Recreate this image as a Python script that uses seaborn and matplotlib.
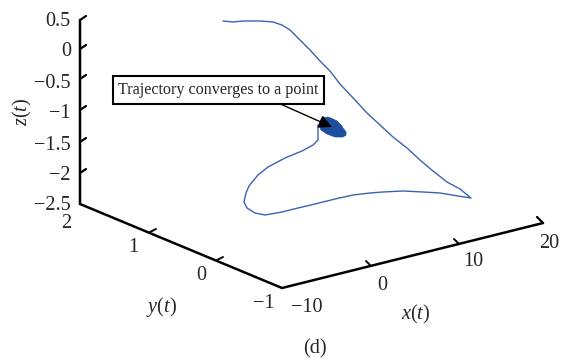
import matplotlib
matplotlib.use('Agg')
import matplotlib.pyplot as plt
import seaborn as sns

traj_x = [223, 233, 243, 260, 273, 282, 290, 300, 310, 320, 330, 340, 355, 367,
          380, 393, 407, 420, 433, 447, 460, 471, 458, 440, 423, 403, 383, 370,
          353, 335, 315, 298, 282, 265, 255, 247, 244, 246, 249, 258, 268, 285,
          302, 313, 318, 318, 318]
traj_y = [21, 22, 21, 21, 22, 25, 30, 40, 50, 61, 71, 84, 100, 113,
          125, 137, 148, 160, 171, 182, 189, 198, 196, 193, 192, 191, 192, 193,
          195, 199, 204, 208, 212, 215, 213, 208, 202, 193, 186, 175, 167, 158,
          151, 145, 140, 130, 125]

blob_x = [319, 320, 322, 328, 333, 337, 341, 343, 346, 346, 343, 335, 327, 321]
blob_y = [125, 121, 118, 117, 119, 121, 125, 128, 132, 135, 137, 137, 134, 130]

z_labels = ['0.5', '0', '\u22120.5', '\u22121', '\u22121.5', '\u22122', '\u22122.5']
z_ticks = [20, 49, 79, 110, 142, 173, 204]
z_label_y = [21, 52, 83, 113, 145, 176, 205]
y_labels = ['2', '1', '0', '\u22121']
y_label_x = [71, 138, 206, 275]
y_label_y = [224, 247, 275, 303]
x_labels = ['\u221210', '0', '10', '20']
x_label_x = [307, 382, 473, 549]
x_label_y = [307, 285, 262, 244]

sns.set_style('white')
plt.rcParams['font.family'] = ['Liberation Serif', 'DejaVu Sans']
plt.rcParams['mathtext.fontset'] = 'custom'
plt.rcParams['mathtext.rm'] = 'Liberation Serif'
plt.rcParams['mathtext.it'] = 'Liberation Serif:italic'

fig = plt.figure(figsize=(5.64, 3.6), dpi=100)
ax = fig.add_axes([0, 0, 1, 1])
ax.set_xlim(0, 564)
ax.set_ylim(360, 0)
ax.axis('off')

blue = '#3a63b4'
sns.lineplot(x=traj_x, y=traj_y, sort=False, estimator=None, color=blue, lw=1.0, ax=ax)
ax.fill(blob_x, blob_y, color='#1c4ea0', lw=0.5)

# box frame
ax.plot([80, 80, 282, 543], [20, 204, 288, 223], color='black', lw=1.8, solid_joinstyle='miter')

# ticks
for t in z_ticks[:-1]:
    ax.plot([80, 86], [t, t - 4], color='black', lw=1.6)
for px, py in [(150, 232), (217, 260)]:
    ax.plot([px, px + 6], [py, py - 3], color='black', lw=1.4)
for px, py in [(370, 265), (458, 243)]:
    ax.plot([px, px - 4], [py, py - 4], color='black', lw=1.4)
ax.plot([543, 537], [223, 217], color='black', lw=1.6)

fs = 14.6
for lab, py in zip(z_labels, z_label_y):
    ax.text(71, py, lab, ha='right', va='center', fontsize=fs)
for lab, px, py in zip(y_labels, y_label_x, y_label_y):
    ax.text(px, py, lab, ha='right', va='center', fontsize=fs)
for lab, px, py in zip(x_labels, x_label_x, x_label_y):
    ax.text(px, py, lab, ha='center', va='center', fontsize=fs)

ax.text(416, 314, r'$x(t)$', ha='center', va='center', fontsize=fs)
ax.text(161, 307, r'$y(t)$', ha='center', va='center', fontsize=fs)
ax.text(22, 112, r'$z(t)$', ha='center', va='center', fontsize=fs, rotation=90)
ax.text(315, 349, '(d)', ha='center', va='center', fontsize=fs)

ax.annotate('', xy=(332, 127), xytext=(276, 102),
            arrowprops=dict(arrowstyle='-|>', color='black', lw=1.0,
                            mutation_scale=20, shrinkA=0, shrinkB=0))
ax.text(218.5, 90, 'Trajectory converges to a point', ha='center', va='center',
        fontsize=11.6,
        bbox=dict(boxstyle='square,pad=0.36', fc='white', ec='black', lw=1.5))

fig.savefig('out.png', dpi=100)
